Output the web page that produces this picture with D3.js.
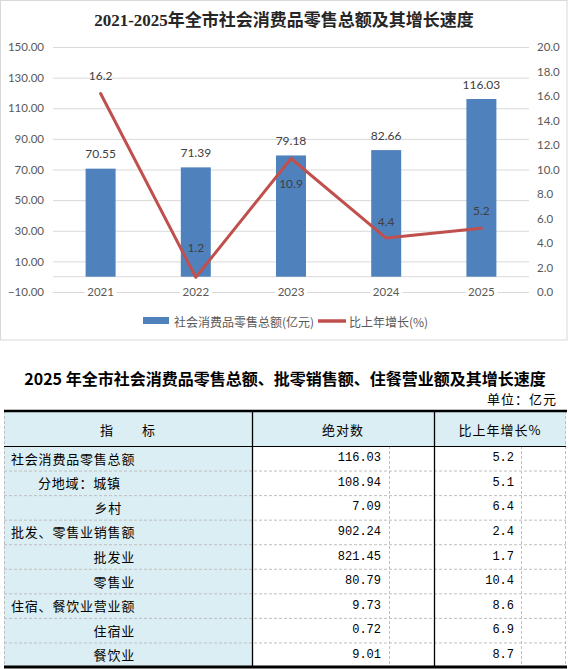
<!DOCTYPE html>
<html>
<head>
<meta charset="utf-8">
<script src="https://cdn.jsdelivr.net/npm/d3@7"></script>
<style>
  body { margin: 0; background: #fff; }
  svg { display: block; }
</style>
</head>
<body>
<div id="chart"></div>
<script>
// chart data
const years = ['2021', '2022', '2023', '2024', '2025']
const sales = [70.55, 71.39, 79.18, 82.66, 116.03]
const growth = [16.2, 1.2, 10.9, 4.4, 5.2]
const leftTicks = [-10, 10, 30, 50, 70, 90, 110, 130, 150]
const rightTicks = [0, 2, 4, 6, 8, 10, 12, 14, 16, 18, 20]
const chartTitle = '2021-2025年全市社会消费品零售总额及其增长速度'
const legendNames = ['社会消费品零售总额(亿元)', '比上年增长(%)']

// table data
const tableTitle = '2025 年全市社会消费品零售总额、批零销售额、住餐营业额及其增长速度'
const unitText = '单位：亿元'
const tableHeads = ['指　　标', '绝对数', '比上年增长%']
const rowNames = ['社会消费品零售总额', '分地域：城镇', '乡村', '批发、零售业销售额', '批发业', '零售业', '住宿、餐饮业营业额', '住宿业', '餐饮业']
const rowValues = [116.03, 108.94, 7.09, 902.24, 821.45, 80.79, 9.73, 0.72, 9.01]
const rowGrowth = [5.2, 5.1, 6.4, 2.4, 1.7, 10.4, 8.6, 6.9, 8.7]

// label placement (style only): offset of growth labels from their point
const growthLabelDy = [-18, -30, 25, -17, -18]
// row name alignment: [anchor x, text-anchor]
const rowAlign = [[11, 'start'], [38, 'start'], [122, 'end'], [11, 'start'], [135, 'end'], [135, 'end'], [11, 'start'], [135, 'end'], [135, 'end']]

const W = 569, H = 669
const numFont = "Lato, 'Noto Sans CJK SC', sans-serif"
const cjkFont = "'Noto Sans CJK SC', sans-serif"
const blue = '#4F81BD', red = '#C0504D', grid = '#D9D9D9', tickColor = '#595959'

const svg = d3.select('#chart').append('svg')
    .attr('width', W)
    .attr('height', H)

// frame of the chart
svg.append('rect')
    .attr('x', 0.5).attr('y', 0.5)
    .attr('width', 566.5).attr('height', 339.5)
    .attr('fill', '#fff')
    .attr('stroke', grid)

svg.append('text')
    .attr('x', 284).attr('y', 20)
    .attr('text-anchor', 'middle')
    .attr('dominant-baseline', 'central')
    .attr('font-family', "'Liberation Serif', 'Noto Sans CJK SC', serif")
    .attr('font-size', 17)
    .attr('font-weight', 'bold')
    .attr('fill', '#262626')
    .text(chartTitle)

const plotL = 53, plotR = 529, plotT = 47, plotB = 292

const x = d3.scaleBand().domain(years).range([plotL, plotR]).paddingInner(0.685).paddingOuter(0.3425)
const yL = d3.scaleLinear().domain([-10, 150]).range([plotB, plotT])
const yR = d3.scaleLinear().domain([0, 20]).range([plotB, plotT])

// left axis + gridlines
const gL = svg.append('g')
    .attr('transform', `translate(${plotL},0)`)
    .call(d3.axisLeft(yL).tickValues(leftTicks).tickFormat(d3.format('.2f')).tickSize(-(plotR - plotL)).tickPadding(9))
gL.select('.domain').remove()
gL.selectAll('line').attr('stroke', grid)
gL.selectAll('text').attr('fill', tickColor).attr('font-family', numFont).attr('font-size', 11.5)

// right axis
const gR = svg.append('g')
    .attr('transform', `translate(${plotR},0)`)
    .call(d3.axisRight(yR).tickValues(rightTicks).tickFormat(d3.format('.1f')).tickSize(0).tickPadding(8))
gR.select('.domain').remove()
gR.selectAll('text').attr('fill', tickColor).attr('font-family', numFont).attr('font-size', 11.5)

// category axis line at zero
svg.append('line')
    .attr('x1', plotL).attr('x2', plotR)
    .attr('y1', yL(0)).attr('y2', yL(0))
    .attr('stroke', grid)

// bars
const bw = x.bandwidth()
svg.append('g').selectAll('rect')
    .data(years)
    .join('rect')
    .attr('x', d => x(d))
    .attr('y', (d, i) => yL(sales[i]))
    .attr('width', bw)
    .attr('height', (d, i) => yL(0) - yL(sales[i]))
    .attr('fill', blue)

svg.append('g').selectAll('text')
    .data(years)
    .join('text')
    .attr('x', d => x(d) + bw / 2)
    .attr('y', (d, i) => yL(sales[i]) - 15)
    .attr('text-anchor', 'middle')
    .attr('dominant-baseline', 'central')
    .attr('font-family', numFont)
    .attr('font-size', 12)
    .attr('fill', '#404040')
    .text((d, i) => sales[i].toFixed(2))

// x axis labels, sitting on the bottom gridline
const gX = svg.append('g')
    .attr('transform', `translate(0,${plotB})`)
    .call(d3.axisBottom(x).tickSize(0))
gX.select('.domain').remove()
gX.selectAll('.tick').insert('rect', 'text')
    .attr('x', -16).attr('y', -7)
    .attr('width', 32).attr('height', 14)
    .attr('fill', '#fff')
gX.selectAll('text')
    .attr('y', 0).attr('dy', '0.35em')
    .attr('fill', tickColor).attr('font-family', numFont).attr('font-size', 11.5)

// growth line
const line = d3.line()
    .x((d, i) => x(years[i]) + bw / 2)
    .y(d => yR(d))

svg.append('path')
    .datum(growth)
    .attr('d', line)
    .attr('fill', 'none')
    .attr('stroke', red)
    .attr('stroke-width', 3)
    .attr('stroke-linejoin', 'round')
    .attr('stroke-linecap', 'round')

svg.append('g').selectAll('text')
    .data(growth)
    .join('text')
    .attr('x', (d, i) => x(years[i]) + bw / 2)
    .attr('y', (d, i) => yR(d) + growthLabelDy[i])
    .attr('text-anchor', 'middle')
    .attr('dominant-baseline', 'central')
    .attr('font-family', numFont)
    .attr('font-size', 12)
    .attr('fill', '#404040')
    .text(d => d.toFixed(1))

// legend
const lg = svg.append('g').attr('font-family', cjkFont).attr('font-size', 12).attr('fill', tickColor)
lg.append('rect').attr('x', 143).attr('y', 317).attr('width', 26).attr('height', 7).attr('fill', blue)
lg.append('text').attr('x', 174).attr('y', 321).attr('dominant-baseline', 'central').text(legendNames[0])
lg.append('line').attr('x1', 318).attr('x2', 346).attr('y1', 321).attr('y2', 321).attr('stroke', red).attr('stroke-width', 3.5)
lg.append('text').attr('x', 349).attr('y', 321).attr('dominant-baseline', 'central').text(legendNames[1])

// ---- table ----
svg.append('text')
    .attr('x', 285).attr('y', 378)
    .attr('text-anchor', 'middle')
    .attr('dominant-baseline', 'central')
    .attr('font-family', cjkFont)
    .attr('font-size', 16)
    .attr('font-weight', 'bold')
    .attr('fill', '#000')
    .text(tableTitle)

svg.append('text')
    .attr('x', 557).attr('y', 398)
    .attr('text-anchor', 'end')
    .attr('dominant-baseline', 'central')
    .attr('font-family', cjkFont)
    .attr('font-size', 13)
    .attr('letter-spacing', 1)
    .attr('fill', '#000')
    .text(unitText)

const tL = 4, tR = 566, tTop = 411, headB = 446, tBot = 667
const col1 = 252, col2 = 434, sub1 = 389, sub2 = 521
const rowY = d3.scaleBand().domain(d3.range(rowNames.length)).range([headB, tBot])
const rh = rowY.bandwidth()
const lightBlue = '#DAEEF3'

// backgrounds
svg.append('rect').attr('x', tL).attr('y', tTop).attr('width', tR - tL).attr('height', headB - tTop).attr('fill', lightBlue)
svg.append('rect').attr('x', tL).attr('y', headB).attr('width', col1 - tL).attr('height', tBot - headB).attr('fill', lightBlue)

// dashed inner lines
const dash = svg.append('g').attr('stroke', '#BFBFBF').attr('stroke-dasharray', '3,2')
dash.selectAll('line.row')
    .data(d3.range(1, rowNames.length))
    .join('line')
    .attr('x1', tL).attr('x2', tR)
    .attr('y1', d => rowY(d) + 0.5).attr('y2', d => rowY(d) + 0.5)
;[tL + 0.5, tR - 0.5].forEach(v => dash.append('line').attr('x1', v).attr('x2', v).attr('y1', tTop).attr('y2', tBot))
;[sub1 + 0.5, sub2 + 0.5].forEach(v => dash.append('line').attr('x1', v).attr('x2', v).attr('y1', headB).attr('y2', tBot))

// solid lines
const solid = svg.append('g').attr('stroke', '#000')
solid.append('line').attr('x1', tL).attr('x2', tR + 1).attr('y1', tTop).attr('y2', tTop).attr('stroke-width', 2.5)
solid.append('line').attr('x1', tL).attr('x2', tR).attr('y1', headB + 0.5).attr('y2', headB + 0.5).attr('stroke-width', 1.2)
solid.append('line').attr('x1', tL).attr('x2', tR + 1).attr('y1', tBot).attr('y2', tBot).attr('stroke-width', 3)
;[col1, col2].forEach(v => solid.append('line').attr('x1', v + 0.5).attr('x2', v + 0.5).attr('y1', tTop).attr('y2', tBot).attr('stroke-width', 1.3))

// header text
const headX = [128, (col1 + col2) / 2, (col2 + tR) / 2]
svg.append('g').selectAll('text')
    .data(tableHeads)
    .join('text')
    .attr('x', (d, i) => headX[i])
    .attr('y', (tTop + headB) / 2 + 1)
    .attr('text-anchor', 'middle')
    .attr('dominant-baseline', 'central')
    .attr('font-family', cjkFont)
    .attr('font-size', 13)
    .attr('letter-spacing', 1)
    .attr('fill', '#000')
    .text(d => d)

// body text
const body = svg.append('g').attr('fill', '#000').attr('dominant-baseline', 'central')
body.selectAll('text.name')
    .data(rowNames)
    .join('text')
    .attr('x', (d, i) => rowAlign[i][0])
    .attr('y', (d, i) => rowY(i) + rh / 2)
    .attr('text-anchor', (d, i) => rowAlign[i][1])
    .attr('font-family', cjkFont)
    .attr('font-size', 13)
    .attr('letter-spacing', 0.8)
    .text(d => d)

const monoFont = "'Liberation Mono', monospace"
body.selectAll('text.val')
    .data(rowValues)
    .join('text')
    .attr('x', sub1 - 8)
    .attr('y', (d, i) => rowY(i) + rh / 2)
    .attr('text-anchor', 'end')
    .attr('font-family', monoFont)
    .attr('font-size', 12)
    .text(d => d.toFixed(2))

body.selectAll('text.gr')
    .data(rowGrowth)
    .join('text')
    .attr('x', sub2 - 7)
    .attr('y', (d, i) => rowY(i) + rh / 2)
    .attr('text-anchor', 'end')
    .attr('font-family', monoFont)
    .attr('font-size', 12)
    .text(d => d.toFixed(1))
</script>
</body>
</html>
